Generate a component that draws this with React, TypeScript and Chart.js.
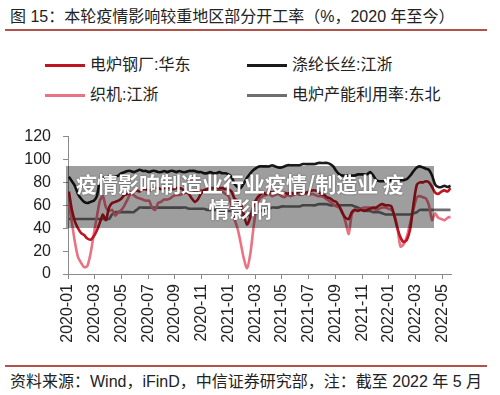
import React, { useEffect, useRef } from "react";
import { Chart, registerables } from "chart.js";

Chart.register(...registerables);

// Weekly observations, first week ending 2020-01-03
const START_YEAR = 2020;
const START_MONTH = 0;
const START_DAY = 3;

const seriesNames = ["电炉钢厂:华东", "涤纶长丝:江浙", "织机:江浙", "电炉产能利用率:东北"];
const seriesColors = ["#BE1522", "#1E1A1A", "#EA7383", "#6E6E6E"];

const steelEastChina = [
  72, 56, 46, 40, 36, 34, 31, 30, 33, 38,
  45, 52, 47, 58, 62, 63, 64, 66, 69, 70,
  71, 72, 73, 72, 74, 74, 73, 74, 75, 75,
  74, 75, 76, 75, 74, 75, 75, 74, 72, 70,
  66, 63, 65, 70, 73, 74, 75, 75, 76, 75,
  75, 74, 74, 72, 66, 64, 62, 52, 43, 50,
  60, 66, 69, 71, 70, 72, 71, 72, 71, 70,
  71, 70, 71, 70, 71, 72, 70, 71, 72, 73,
  73, 72, 70, 69, 67, 66, 64, 63, 59, 53,
  49, 48, 54, 56, 55, 56, 55, 56, 57, 58,
  58, 60, 61, 60, 60, 59, 50, 40, 32, 28,
  30, 40, 62, 78, 80, 80, 81, 80, 76, 71,
  70, 72, 73, 72, 75,
];

const polyesterJiangZhe = [
  85, 81, 77, 70, 66, 63, 62, 63, 64, 68,
  82, 84, 84, 85, 84, 85, 86, 88, 89, 90,
  90, 89, 90, 91, 90, 90, 89, 90, 90, 89,
  89, 90, 89, 90, 90, 89, 90, 89, 89, 90,
  90, 90, 89, 89, 88, 88, 89, 88, 88, 89,
  88, 88, 87, 85, 79, 76, 75, 79, 84, 88,
  91, 93, 94, 94, 94, 94, 95, 94, 93, 93,
  94, 95, 95, 95, 95, 95, 96, 96, 96, 96,
  96, 97, 97, 97, 97, 96, 94, 90, 87, 86,
  86, 86, 86, 86, 87, 87, 87, 87, 89, 86,
  82, 81, 81, 81, 81, 82, 82, 82, 82, 82,
  83, 86, 90, 93, 94, 93, 92, 91, 86, 78,
  76, 76, 77, 76, 77,
];

const loomJiangZhe = [
  62, 45, 28, 15, 10, 6, 7, 18, 35, 50,
  64, 68, 58, 55, 56, 51, 54, 56, 60, 65,
  70, 69, 67, 66, 65, 64, 64, 58, 56, 62,
  63, 65, 65, 66, 68, 69, 69, 70, 71, 71,
  72, 72, 72, 73, 73, 74, 74, 75, 74, 73,
  72, 70, 68, 60, 48, 40, 28, 14, 5, 18,
  42, 60, 66, 68, 69, 70, 68, 69, 70, 68,
  67, 69, 68, 69, 70, 69, 70, 70, 69, 70,
  69, 68, 68, 67, 65, 63, 61, 59, 58, 54,
  45, 35, 52, 56, 56, 57, 58, 58, 58, 57,
  56, 57, 58, 58, 57, 56, 52, 40, 24, 26,
  33, 45, 57, 67, 68, 67, 66, 60, 47, 53,
  49, 48, 47, 49, 50,
];

const steelUtilNortheast = [
  48, 48, 48, 48, 48, 48, 48, 48, 48, 48,
  48, 48, 48, 48, 52, 54, 54, 54, 54, 54,
  54, 54, 56, 58, 58, 58, 58, 58, 58, 58,
  58, 58, 58, 58, 58, 58, 58, 58, 58, 57,
  57, 57, 57, 57, 57, 56, 56, 56, 56, 56,
  55, 55, 55, 55, 55, 55, 53, 51, 51, 52,
  53, 54, 55, 56, 57, 57, 58, 58, 58, 59,
  59, 59, 59, 59, 59, 59, 60, 60, 60, 60,
  60, 61, 61, 61, 61, 60, 60, 60, 60, 60,
  60, 60, 60, 59, 58, 57, 56, 55, 55, 54,
  54, 54, 53, 52, 52, 52, 52, 52, 52, 52,
  52, 52, 53, 54, 56, 56, 56, 56, 56, 56,
  56, 56, 56, 56, 56,
];

const yTicks = [0, 20, 40, 60, 80, 100, 120];

// Convert each weekly date into a month offset from 2020-01
function weekPositions(n: number): number[] {
  const out: number[] = [];
  for (let i = 0; i < n; i++) {
    const d = new Date(Date.UTC(START_YEAR, START_MONTH, START_DAY + 7 * i));
    const y = d.getUTCFullYear();
    const mo = d.getUTCMonth();
    const dim = new Date(Date.UTC(y, mo + 1, 0)).getUTCDate();
    out.push((y - START_YEAR) * 12 + mo + (d.getUTCDate() - 1) / dim);
  }
  return out;
}

function monthLabel(v: number): string {
  const n = Math.round(v);
  const y = START_YEAR + Math.floor(n / 12);
  const m = (n % 12) + 1;
  return `${y}-${m < 10 ? "0" + m : m}`;
}

const FONT = '"Liberation Sans", "Noto Sans CJK SC", Arial, sans-serif';

export default function App() {
  const ref = useRef<HTMLCanvasElement>(null);

  useEffect(() => {
    if (!ref.current) return;
    const xs = weekPositions(steelEastChina.length);
    const toPts = (arr: number[]) => arr.map((v, i) => ({ x: xs[i], y: v }));
    const all = [steelEastChina, polyesterJiangZhe, loomJiangZhe, steelUtilNortheast];
    const orders = [1, 0, 2, 3];
    const chart = new Chart(ref.current, {
      type: "line",
      data: {
        datasets: all.map((arr, k) => ({
          label: seriesNames[k],
          data: toPts(arr),
          borderColor: seriesColors[k],
          backgroundColor: seriesColors[k],
          borderWidth: 2.6,
          pointRadius: 0,
          tension: 0.25,
          order: orders[k],
        })),
      },
      options: {
        animation: false,
        responsive: false,
        devicePixelRatio: 1,
        layout: { padding: { left: 0, right: 49, top: 16, bottom: 0 } },
        plugins: { legend: { display: false }, tooltip: { enabled: false } },
        scales: {
          x: {
            type: "linear",
            min: 0,
            max: 28.65,
            afterFit: (s: any) => {
              s.height = 91;
            },
            border: { display: true, color: "#8a8a8a", width: 1 },
            grid: { display: true, drawOnChartArea: false, drawTicks: true, tickLength: 5, color: "#8a8a8a" },
            ticks: {
              stepSize: 2,
              includeBounds: false,
              autoSkip: false,
              maxRotation: 90,
              minRotation: 90,
              padding: 5,
              color: "#222",
              font: { family: FONT, size: 16 },
              callback: (v: any) => monthLabel(Number(v)),
            },
          },
          y: {
            min: 0,
            max: 120,
            afterFit: (s: any) => {
              s.width = 68;
            },
            afterBuildTicks: (s: any) => {
              s.ticks = yTicks.map((v) => ({ value: v }));
            },
            border: { display: true, color: "#8a8a8a", width: 1 },
            grid: { display: true, drawOnChartArea: false, drawTicks: true, tickLength: 5, color: "#8a8a8a" },
            ticks: {
              padding: 12,
              color: "#222",
              font: { family: FONT, size: 16 },
            },
          },
        },
      },
    } as any);
    return () => chart.destroy();
  }, []);

  const legendItem = (k: number, left: number, top: number) => (
    <div key={k}>
      <div
        style={{
          position: "absolute",
          left,
          top: top - 1.5,
          width: 40,
          height: 3,
          background: seriesColors[k],
        }}
      />
      <div
        style={{
          position: "absolute",
          left: left + 45,
          top: top - 10,
          fontSize: 16,
          lineHeight: "20px",
          color: "#222",
          whiteSpace: "nowrap",
        }}
      >
        {seriesNames[k]}
      </div>
    </div>
  );

  return (
    <div
      style={{
        position: "absolute",
        left: 0,
        top: 0,
        width: 500,
        height: 395,
        background: "#fff",
        overflow: "hidden",
        fontFamily: FONT,
      }}
    >
      <div
        style={{
          position: "absolute",
          left: 10,
          top: 7,
          fontSize: 16,
          lineHeight: "20px",
          color: "#222",
          whiteSpace: "nowrap",
        }}
      >
        图 15：本轮疫情影响较重地区部分开工率（%，2020 年至今）
      </div>
      <div style={{ position: "absolute", left: 5, top: 29, width: 482, height: 1.5, background: "#B3514C" }} />

      {legendItem(0, 45, 65)}
      {legendItem(1, 247, 65)}
      {legendItem(2, 45, 95)}
      {legendItem(3, 247, 95)}

      <canvas
        ref={ref}
        width={500}
        height={250}
        style={{ position: "absolute", left: 0, top: 115, width: 500, height: 250 }}
      />

      <div
        style={{
          position: "absolute",
          left: 66,
          top: 166,
          width: 368,
          height: 62,
          background: "rgba(0,0,0,0.38)",
          color: "#fff",
          fontFamily: '"Noto Sans CJK SC", sans-serif',
          fontWeight: 700,
          fontSize: 21,
          lineHeight: "25px",
          textAlign: "center",
          paddingTop: 5,
          paddingRight: 20,
          boxSizing: "border-box",
          whiteSpace: "nowrap",
          textShadow: "0 0 2px rgba(0,0,0,0.5)",
        }}
      >
        疫情影响制造业行业疫情/制造业 疫
        <br />
        情影响
      </div>

      <div style={{ position: "absolute", left: 5, top: 365, width: 482, height: 1.5, background: "#B3514C" }} />
      <div
        style={{
          position: "absolute",
          left: 10,
          top: 372,
          fontSize: 16,
          lineHeight: "20px",
          color: "#222",
          whiteSpace: "nowrap",
        }}
      >
        资料来源：Wind，iFinD，中信证券研究部，注：截至 2022 年 5 月
      </div>
    </div>
  );
}
